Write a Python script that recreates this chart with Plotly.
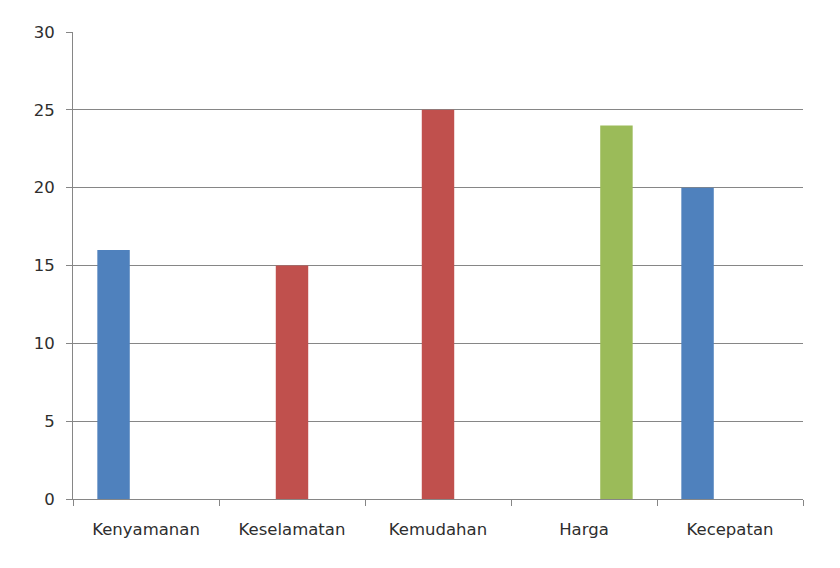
import plotly.graph_objects as go

categories = ["Kenyamanan", "Keselamatan", "Kemudahan", "Harga", "Kecepatan"]
series1 = [16, None, None, None, 20]
series2 = [None, 15, 25, None, None]
series3 = [None, None, None, 24, None]
y_ticks = [0, 5, 10, 15, 20, 25, 30]

colors = ["#4F81BD", "#C0504D", "#9BBB59"]

fig = go.Figure()
for name, vals, c in zip(["Series1", "Series2", "Series3"], [series1, series2, series3], colors):
    fig.add_trace(go.Bar(x=categories, y=vals, name=name, marker=dict(color=c, line=dict(width=0))))

# page body has an 8px margin, so the figure is placed at (8, 8)
fig.update_layout(
    width=832, height=560,
    margin=dict(l=65, r=37, t=24, b=69),
    paper_bgcolor="white", plot_bgcolor="white",
    barmode="group", bargap=1/3, bargroupgap=0,
    showlegend=False,
    font=dict(family="DejaVu Sans", size=16.5, color="#2e2e2e"),
)
fig.update_xaxes(
    type="category", showgrid=False, showline=True, linecolor="#868686", linewidth=1,
    ticks="outside", tickson="boundaries", ticklen=6, tickcolor="#868686",
    ticklabelstandoff=15,
)
fig.update_yaxes(
    range=[0, 30], tickvals=y_ticks, showgrid=True, gridcolor="#868686", gridwidth=1,
    showline=True, linecolor="#868686", linewidth=1, ticks="outside", ticklen=6,
    tickcolor="#868686", zeroline=False, ticklabelstandoff=8,
)
fig.write_html("out.html")
